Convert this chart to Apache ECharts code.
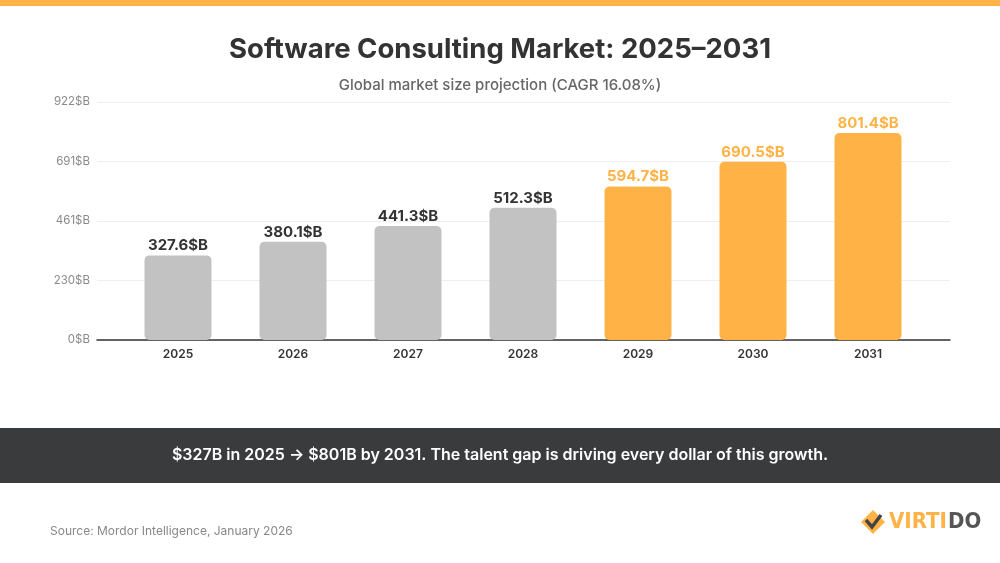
<!DOCTYPE html>
<html><head><meta charset="utf-8">
<script src="https://cdn.jsdelivr.net/npm/echarts@6/dist/echarts.min.js"></script>
<style>html,body{margin:0;padding:0;background:#fff}#c{width:1000px;height:563px}</style>
</head><body><div id="c"></div>
<script>
var categories = ['2025','2026','2027','2028','2029','2030','2031'];
var values = [327.6, 380.1, 441.3, 512.3, 594.7, 690.5, 801.4];
var projected = [false, false, false, false, true, true, true];
var yMax = 921.61;
var titleText = 'Software Consulting Market: 2025–2031';
var subtitleText = 'Global market size projection (CAGR 16.08%)';
var bannerText = '$327B in 2025 → $801B by 2031. The talent gap is driving every dollar of this growth.';
var sourceText = 'Source: Mordor Intelligence, January 2026';

var ORANGE = '#FFB347', GRAY = '#C2C2C2', DARK = '#333333';
var FONT = 'Inter, "Open Sans", sans-serif';
var chart = echarts.init(document.getElementById('c'), null, {renderer:'canvas'});
var option = {
  backgroundColor: '#fff',
  animation: false,
  title: [
    {text: titleText, left: 'center', top: 31, textStyle: {fontFamily: FONT, fontSize: 27.5, fontWeight: 700, color: DARK}},
    {text: subtitleText, left: 'center', top: 73, textStyle: {fontFamily: FONT, fontSize: 15, fontWeight: 500, color: '#666'}}
  ],
  grid: [
    {left: 97, right: 50, top: 102, height: 238},
    {left: 120.5, right: 74.5, top: 102, height: 238}
  ],
  xAxis: [
    {gridIndex: 0, type: 'value', min: 0, max: 1, show: true, axisLine: {show: true, onZero: false, lineStyle: {color: '#333', width: 1.5}}, axisTick: {show: false}, axisLabel: {show: false}, splitLine: {show: false}},
    {gridIndex: 1, type: 'category', data: categories, axisLine: {show: false}, axisTick: {show: false},
     axisLabel: {margin: 8, fontFamily: FONT, fontSize: 12, fontWeight: 600, color: DARK}}
  ],
  yAxis: [
    {gridIndex: 0, type: 'value', min: 0, max: yMax, interval: yMax/4,
     axisLine: {show: false}, axisTick: {show: false},
     axisLabel: {fontFamily: FONT, fontSize: 11.5, color: '#8a8a8a', margin: 7, formatter: function(v){return Math.round(v)+'$B';}},
     splitLine: {lineStyle: {color: '#efefef', width: 1}}},
    {gridIndex: 1, type: 'value', min: 0, max: yMax, show: false, splitLine: {show: false}}
  ],
  series: [{
    type: 'bar', xAxisIndex: 1, yAxisIndex: 1, barWidth: 67,
    data: values.map(function(v, i){
      var c = projected[i] ? ORANGE : GRAY;
      return {value: v, itemStyle: {color: c, borderRadius: 5},
        label: {color: projected[i] ? ORANGE : DARK}};
    }),
    label: {show: true, position: 'top', distance: 2, fontFamily: FONT, fontSize: 15, fontWeight: 700,
      formatter: function(p){return p.value.toFixed(1)+'$B';}}
  }],
  graphic: [
    {type: 'rect', shape: {x: 0, y: 0, width: 1000, height: 6}, style: {fill: ORANGE}},
    {type: 'rect', shape: {x: 0, y: 428, width: 1000, height: 55}, style: {fill: '#3A3B3D'}},
    {type: 'text', x: 500, y: 455, style: {text: bannerText, fill: '#fff', font: '600 16px ' + FONT, textAlign: 'center', textVerticalAlign: 'middle'}},
    {type: 'text', x: 50, y: 531, style: {text: sourceText, fill: '#888', font: '12px ' + FONT, textAlign: 'left', textVerticalAlign: 'middle'}},
    {type: 'polygon', shape: {points: [[873,510],[885,522],[873,534],[861,522]]}, style: {fill: ORANGE}},
    {type: 'polyline', shape: {points: [[866,520],[872,527],[881,515]]}, style: {stroke: '#444', lineWidth: 3.5, fill: null}},
    {type: 'text', x: 889, y: 522, style: {text: 'VIRTI', fill: ORANGE, font: '700 22px "Liberation Sans Narrow", "DejaVu Sans Condensed", sans-serif', textAlign: 'left', textVerticalAlign: 'middle'}},
    {type: 'text', x: 948, y: 522, style: {text: 'DO', fill: '#555', font: '700 22px "Liberation Sans Narrow", "DejaVu Sans Condensed", sans-serif', textAlign: 'left', textVerticalAlign: 'middle'}}
  ]
};
chart.setOption(option);
</script></body></html>
